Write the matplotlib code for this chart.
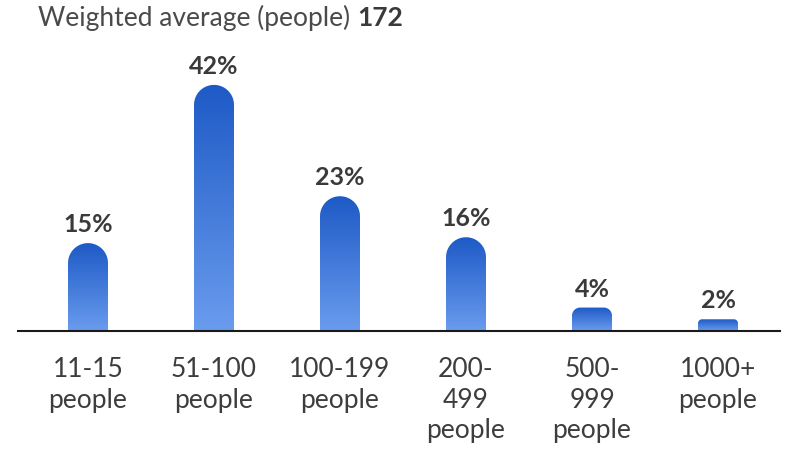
import numpy as np
import matplotlib
matplotlib.use("Agg")
import matplotlib.pyplot as plt
from matplotlib.patches import PathPatch
from matplotlib.path import Path
from matplotlib.colors import LinearSegmentedColormap

plt.rcParams['font.family'] = ['Lato', 'DejaVu Sans']

# data
categories = ["11-15\npeople", "51-100\npeople", "100-199\npeople",
              "200-\n499\npeople", "500-\n999\npeople", "1000+\npeople"]
shares = [15, 42, 23, 16, 4, 2]
title_txt = "Weighted average (people) "
title_val = "172"

W, H = 798, 451
fig = plt.figure(figsize=(W / 100, H / 100), dpi=100)

# axes geometry in pixels
ax_l, ax_r, ax_t, ax_b = 18, 780, 40, 331
ax = fig.add_axes([ax_l / W, 1 - ax_b / H, (ax_r - ax_l) / W, (ax_b - ax_t) / H])

px_per_x = 126.0
px_per_y = 5.86
x0 = 88
xlim = ((ax_l - x0) / px_per_x, (ax_r - x0) / px_per_x)
ylim = (0, (ax_b - ax_t) / px_per_y)

bar_w = 40 / px_per_x

cmap = LinearSegmentedColormap.from_list("g", ["#6a9cee", "#1e5ac6"])
grad = np.linspace(0, 1, 256).reshape(-1, 1)


def bar_path(x, v):
    # rectangle with rounded top corners, radius in pixels
    h_px = v * px_per_y
    r_px = min(20, h_px * 0.35)
    rx, ry = r_px / px_per_x, r_px / px_per_y
    l, r = x - bar_w / 2, x + bar_w / 2
    t = np.linspace(np.pi, np.pi / 2, 20)
    left = np.c_[l + rx + rx * np.cos(t), v - ry + ry * np.sin(t)]
    t2 = np.linspace(np.pi / 2, 0, 20)
    right = np.c_[r - rx + rx * np.cos(t2), v - ry + ry * np.sin(t2)]
    verts = np.vstack([[l, 0], left, right, [r, 0], [l, 0]])
    codes = [Path.MOVETO] + [Path.LINETO] * (len(verts) - 2) + [Path.CLOSEPOLY]
    return Path(verts, codes)


xs = np.arange(len(shares))
for x, v in zip(xs, shares):
    patch = PathPatch(bar_path(x, v), facecolor="none", edgecolor="none")
    ax.add_patch(patch)
    im = ax.imshow(grad, cmap=cmap, origin="lower", aspect="auto",
                   extent=(x - bar_w / 2, x + bar_w / 2, 0, v), interpolation="bilinear")
    im.set_clip_path(patch)
    ax.text(x, v + 11 / px_per_y, f"{v}%", ha="center", va="baseline",
            fontsize=18, fontweight="bold", color="#3a3a3a")

ax.set_xlim(*xlim)
ax.set_ylim(*ylim)
for s in ["top", "right", "left"]:
    ax.spines[s].set_visible(False)
ax.spines["bottom"].set_color("#1a1a1a")
ax.spines["bottom"].set_linewidth(1.5)
ax.set_yticks([])
ax.set_xticks(xs)
ax.set_xticklabels(categories, fontsize=19, color="#3d3d3d", linespacing=1.27)
ax.tick_params(axis="x", length=0, pad=19)

t1 = fig.text(38 / W, 1 - 26 / H, title_txt, fontsize=19, color="#4a4a4a", va="baseline")
fig.canvas.draw()
bb = t1.get_window_extent()
fig.text(bb.x1 / W, 1 - 26 / H, title_val, fontsize=19, fontweight="bold",
         color="#3a3a3a", va="baseline")

fig.savefig("out.png", dpi=100)
